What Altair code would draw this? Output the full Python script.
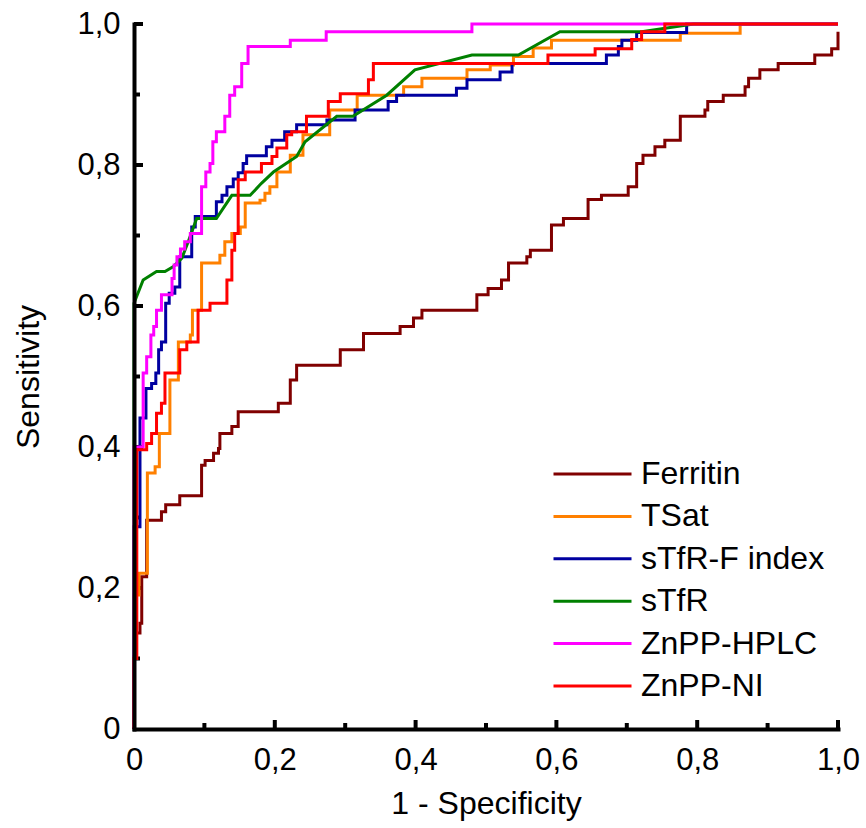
import altair as alt
import pandas as pd

# ---------------- data ----------------
series_names = ["Ferritin", "TSat", "sTfR-F index", "sTfR", "ZnPP-HPLC", "ZnPP-NI"]
series_colors = ["#800000", "#FF8000", "#0000A0", "#008000", "#FF00FF", "#FF0000"]
series_interp = ["step-after", "step-after", "step-after", "linear", "step-after", "step-after"]

ferritin_x = [0, 0, 0.003, 0.0085, 0.011, 0.018, 0.039, 0.045, 0.065, 0.096, 0.101, 0.113, 0.120,
              0.122, 0.139, 0.148, 0.205, 0.222, 0.231, 0.293, 0.326, 0.378, 0.397, 0.409, 0.487,
              0.503, 0.522, 0.532, 0.558, 0.563, 0.593, 0.610, 0.645, 0.664, 0.702, 0.714, 0.723,
              0.740, 0.754, 0.776, 0.811, 0.815, 0.837, 0.868, 0.873, 0.889, 0.915, 0.967, 0.991, 1.0]
ferritin_y = [0, 0.103, 0.136, 0.150, 0.216, 0.296, 0.308, 0.318, 0.331, 0.374, 0.381, 0.391, 0.398,
              0.419, 0.429, 0.450, 0.462, 0.495, 0.516, 0.538, 0.561, 0.571, 0.583, 0.594, 0.616,
              0.625, 0.637, 0.661, 0.670, 0.679, 0.715, 0.724, 0.751, 0.757, 0.769, 0.802, 0.814,
              0.826, 0.835, 0.869, 0.878, 0.890, 0.899, 0.911, 0.923, 0.935, 0.944, 0.956, 0.965, 0.989]

tsat_x = [0, 0, 0.007, 0.019, 0.030, 0.036, 0.051, 0.063, 0.080, 0.083, 0.096, 0.122, 0.129, 0.139,
          0.151, 0.158, 0.179, 0.186, 0.193, 0.203, 0.222, 0.240, 0.278, 0.317, 0.383, 0.409, 0.473,
          0.506, 0.539, 0.567, 0.593, 0.776, 0.861, 1.0]
tsat_y = [0, 0.19, 0.221, 0.363, 0.372, 0.419, 0.495, 0.549, 0.559, 0.594, 0.661, 0.672, 0.691, 0.703,
          0.712, 0.746, 0.750, 0.760, 0.769, 0.790, 0.814, 0.843, 0.878, 0.899, 0.911, 0.923, 0.935,
          0.942, 0.954, 0.966, 0.977, 0.987, 1.0, 1.0]

stfrf_x = [0, 0, 0.0085, 0.017, 0.025, 0.031, 0.035, 0.039, 0.045, 0.050, 0.058, 0.065, 0.082, 0.087,
           0.117, 0.125, 0.132, 0.141, 0.148, 0.155, 0.160, 0.188, 0.196, 0.214, 0.231, 0.274, 0.314,
           0.361, 0.373, 0.458, 0.473, 0.520, 0.537, 0.671, 0.688, 0.693, 0.714, 0.785, 1.0]
stfrf_y = [0, 0.287, 0.441, 0.483, 0.490, 0.505, 0.538, 0.549, 0.604, 0.618, 0.627, 0.670, 0.712, 0.727,
           0.748, 0.757, 0.769, 0.780, 0.789, 0.802, 0.813, 0.826, 0.835, 0.847, 0.857, 0.864, 0.878,
           0.890, 0.899, 0.909, 0.921, 0.932, 0.944, 0.956, 0.968, 0.977, 0.988, 1.0, 1.0]

stfr_x = [0, 0, 0.013, 0.032, 0.044, 0.056, 0.068, 0.077, 0.089, 0.117, 0.139, 0.165, 0.181, 0.198,
          0.231, 0.243, 0.288, 0.311, 0.359, 0.399, 0.480, 0.546, 0.605, 0.721, 0.795, 1.0]
stfr_y = [0, 0.604, 0.637, 0.649, 0.649, 0.656, 0.668, 0.691, 0.724, 0.724, 0.757, 0.757, 0.774, 0.790,
          0.812, 0.833, 0.869, 0.869, 0.899, 0.935, 0.956, 0.956, 0.989, 0.989, 1.0, 1.0]

znpph_x = [0, 0, 0.013, 0.018, 0.024, 0.028, 0.032, 0.039, 0.054, 0.057, 0.061, 0.066, 0.072, 0.080,
           0.096, 0.102, 0.108, 0.112, 0.117, 0.129, 0.136, 0.143, 0.153, 0.162, 0.222, 0.273, 0.480, 1.0]
znpph_y = [0, 0.400, 0.505, 0.528, 0.559, 0.571, 0.594, 0.616, 0.639, 0.658, 0.670, 0.681, 0.691, 0.703,
           0.769, 0.790, 0.802, 0.833, 0.847, 0.869, 0.899, 0.911, 0.944, 0.968, 0.977, 0.989, 1.0, 1.0]

znppn_x = [0, 0, 0.004, 0.018, 0.025, 0.032, 0.039, 0.044, 0.065, 0.075, 0.091, 0.108, 0.132, 0.139,
           0.143, 0.148, 0.158, 0.181, 0.196, 0.203, 0.217, 0.224, 0.245, 0.276, 0.293, 0.333, 0.340,
           0.588, 0.655, 0.707, 0.721, 0.754, 1.0]
znppn_y = [0, 0.10, 0.396, 0.405, 0.419, 0.448, 0.462, 0.505, 0.538, 0.549, 0.594, 0.604, 0.637, 0.679,
           0.703, 0.779, 0.790, 0.802, 0.812, 0.824, 0.843, 0.847, 0.869, 0.890, 0.901, 0.921, 0.944,
           0.956, 0.965, 0.978, 0.989, 1.0, 1.0]

axis_values = [0, 0.2, 0.4, 0.6, 0.8, 1.0]
major_ticks = [0.2, 0.4, 0.6, 0.8, 1.0]
minor_ticks = [0.1, 0.3, 0.5, 0.7, 0.9]

# ---------------- build table ----------------
xs = [ferritin_x, tsat_x, stfrf_x, stfr_x, znpph_x, znppn_x]
ys = [ferritin_y, tsat_y, stfrf_y, stfr_y, znpph_y, znppn_y]
rows = []
for name, xv, yv in zip(series_names, xs, ys):
    for i, (a, b) in enumerate(zip(xv, yv)):
        rows.append({"series": name, "idx": i, "x": a, "y": b})
df = pd.DataFrame(rows)

FONT = "Liberation Sans"
W, H = 704, 705
label_expr = "datum.value == 0 ? '0' : replace(format(datum.value, '.1f'), '.', ',')"

xscale = alt.Scale(domain=[0, 1], nice=False)
yscale = alt.Scale(domain=[0, 1], nice=False)

x_axis = alt.Axis(values=axis_values, labelExpr=label_expr, ticks=False, grid=False,
                  domainWidth=4, domainColor="black", domainCap="square", labelFlush=False,
                  labelFontSize=31, labelFont=FONT, labelColor="black", labelPadding=16,
                  title="1 - Specificity", titleFont=FONT, titleFontSize=32,
                  titleFontWeight="normal", titleColor="black", titleX=W / 2, titleY=84,
                  titleBaseline="alphabetic", titleAlign="center", zindex=1)
y_axis = alt.Axis(values=axis_values, labelExpr=label_expr, ticks=False, grid=False,
                  domainWidth=4, domainColor="black", domainCap="square", labelFlush=False,
                  labelFontSize=31, labelFont=FONT, labelColor="black", labelPadding=14,
                  title="Sensitivity", titleFont=FONT, titleFontSize=32,
                  titleFontWeight="normal", titleColor="black", titleX=-96, titleY=H / 2,
                  titleAngle=-90, titleBaseline="alphabetic", titleAlign="center", zindex=1)

color = alt.Color("series:N",
                  scale=alt.Scale(domain=series_names, range=series_colors),
                  legend=alt.Legend(title=None, orient="none", legendX=418, legendY=435,
                                    symbolType="stroke", symbolSize=6084, symbolStrokeWidth=3,
                                    labelFontSize=32, labelFont=FONT, labelColor="black",
                                    labelOffset=8, rowPadding=10.4, clipHeight=30, padding=0,
                                    labelLimit=400))

base = alt.Chart(df)
layers = []
for name, interp in zip(series_names, series_interp):
    layers.append(
        base.transform_filter(alt.datum.series == name)
        .mark_line(interpolate=interp, strokeWidth=3)
        .encode(x=alt.X("x:Q", scale=xscale, axis=x_axis),
                y=alt.Y("y:Q", scale=yscale, axis=y_axis),
                color=color,
                order=alt.Order("idx:Q"))
    )

maj = pd.DataFrame({"x": major_ticks, "y": major_ticks})
mnr = pd.DataFrame({"x": minor_ticks, "y": minor_ticks})
tick_layers = [
    alt.Chart(maj).mark_rule(color="black", strokeWidth=4).encode(
        x=alt.X("x:Q", scale=xscale, axis=x_axis), y=alt.value(H), y2=alt.value(H - 9)),
    alt.Chart(mnr).mark_rule(color="black", strokeWidth=4).encode(
        x=alt.X("x:Q", scale=xscale, axis=x_axis), y=alt.value(H), y2=alt.value(H - 6)),
    alt.Chart(maj).mark_rule(color="black", strokeWidth=4).encode(
        y=alt.Y("y:Q", scale=yscale, axis=y_axis), x=alt.value(0), x2=alt.value(9)),
    alt.Chart(mnr).mark_rule(color="black", strokeWidth=4).encode(
        y=alt.Y("y:Q", scale=yscale, axis=y_axis), x=alt.value(0), x2=alt.value(6)),
]

chart = alt.layer(*tick_layers, *layers).properties(
    width=W, height=H,
    padding={"left": 134, "top": 24, "right": 28, "bottom": 99},
    autosize=alt.AutoSizeParams(type="none"),
    background="white",
).configure_view(strokeWidth=0)

chart.save("out.html", embed_options={"renderer": "svg", "actions": False})
